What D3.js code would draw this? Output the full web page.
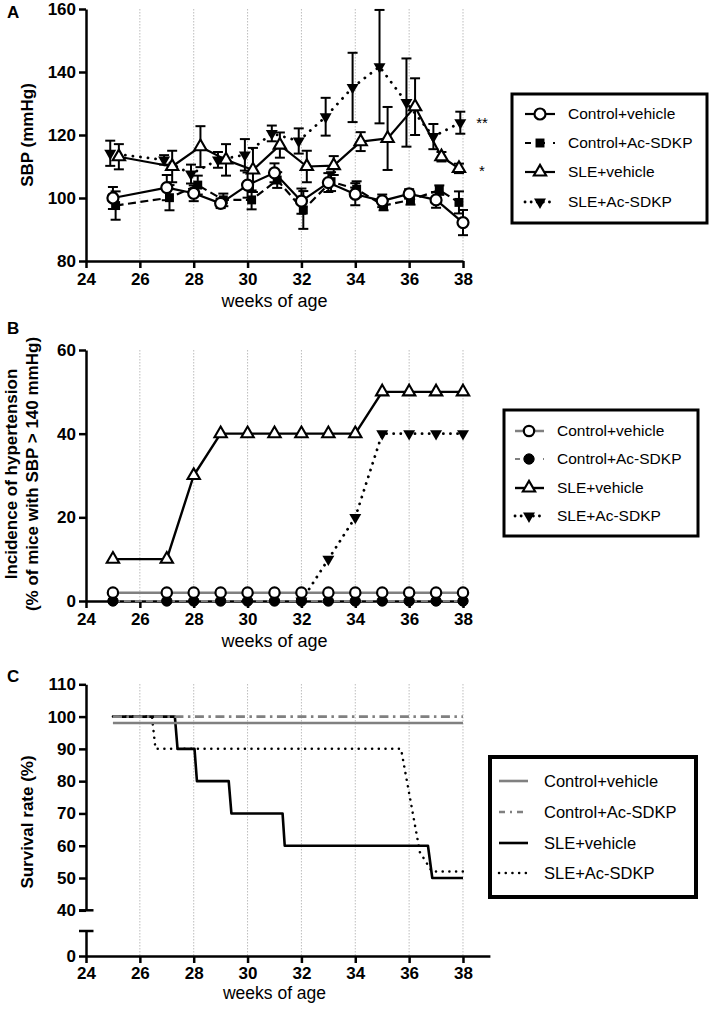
<!DOCTYPE html>
<html><head><meta charset="utf-8">
<script src="https://cdn.jsdelivr.net/npm/d3@7"></script>
<style>
body{margin:0;background:#fff;}
svg{display:block;font-family:"Liberation Sans",Arial,Helvetica,sans-serif;}
</style></head><body>
<svg id="c" width="709" height="1012"></svg>
<script>
// ---------------- DATA ----------------
const seriesNames = ["Control+vehicle", "Control+Ac-SDKP", "SLE+vehicle", "SLE+Ac-SDKP"];
const weeks = [25, 27, 28, 29, 30, 31, 32, 33, 34, 35, 36, 37, 38];
const xTicks = [24, 26, 28, 30, 32, 34, 36, 38];

// Panel A: SBP (mmHg), mean and SEM; x positions (weeks, nudged as in the figure)
const cvX_A = [25, 27, 28, 29, 30, 31, 32, 33, 34, 35, 36, 37, 38];
const caX_A = [25.1, 27.1, 28.15, 29.1, 30.15, 31.1, 32.07, 33.1, 34.05, 35.05, 36.05, 37.12, 37.85];
const svX_A = [25.22, 27.2, 28.25, 29.2, 30.2, 31.2, 32.2, 33.2, 34.2, 35.2, 36.22, 37.2, 37.85];
const saX_A = [24.9, 26.9, 27.9, 28.9, 29.9, 30.9, 31.9, 32.9, 33.9, 34.9, 35.9, 36.9, 37.9];
const cvA = [100, 103.3, 101.5, 98.3, 104.1, 108, 99, 104.9, 101.2, 99.1, 101.3, 99.4, 92.2];
const caA = [97.6, 100.1, 104.1, 99.4, 99.4, 105.7, 96.2, 105.2, 102.8, 97.6, 99.4, 102.5, 98.6];
const svA = [113.1, 110, 116.3, 112.1, 108.9, 116.8, 110, 110.3, 117.9, 118.9, 129, 113.1, 109.4];
const saA = [114.2, 112.1, 107.6, 112.1, 113.7, 120.5, 118.1, 125.8, 135.1, 141.7, 130.3, 119.5, 123.9];
const cvA_sem = [3.5, 4, 2.5, 1.5, 4, 3, 4, 3, 3.5, 2, 1.5, 2.5, 4];
const caA_sem = [4.5, 4, 3, 2, 3, 2.5, 6, 3, 2.5, 1.5, 1.5, 1.5, 3.5];
const svA_sem = [4, 5, 6.5, 5, 7, 4, 5, 3, 3, 10, 9, 1.5, 1.5];
const saA_sem = [4, 1.5, 3, 2.5, 5, 2.5, 4, 6, 11, 18, 14, 4, 3.5];
const yTicksA = [80, 100, 120, 140, 160];
const sigLabels = ["**", "*"];
const sigValues = [125, 110];

// Panel B: incidence of hypertension (%)
const cvB = [2, 2, 2, 2, 2, 2, 2, 2, 2, 2, 2, 2, 2];
const caB = [0, 0, 0, 0, 0, 0, 0, 0, 0, 0, 0, 0, 0];
const svB = [10, 10, 30, 40, 40, 40, 40, 40, 40, 50, 50, 50, 50];
const saB = [null, null, null, null, null, null, 0, 10, 20, 40, 40, 40, 40];
const yTicksB = [0, 20, 40, 60];

// Panel C: survival rate (%), [week, value] step vertices
const cvC = [[25, 98], [38, 98]];
const caC = [[25, 100], [38, 100]];
const svC = [[25, 100], [27.3, 100], [27.4, 90], [28.03, 90], [28.12, 80], [29.3, 80], [29.4, 70], [31.3, 70], [31.38, 60], [36.7, 60], [36.86, 50], [38, 50]];
const saC = [[25, 100], [26.45, 100], [26.58, 90], [35.7, 90], [36.4, 58], [36.85, 52], [38, 52]];
const yTicksC = [40, 50, 60, 70, 80, 90, 100, 110];
const yTicksCLow = [0];

// ---------------- DRAWING ----------------
const svg = d3.select("#c");
const BLACK = "#000", GRAY = "#808080";
const FONT_TICK = "17px", FONT_TITLE = "17px";

function styleAxis(g) {
  g.selectAll("path.domain").attr("stroke", BLACK).attr("stroke-width", 2.5);
  g.selectAll(".tick line").attr("stroke", BLACK).attr("stroke-width", 2.5);
  g.selectAll(".tick text").attr("fill", BLACK).style("font-size", FONT_TICK).style("font-weight", "bold")
    .style("font-family", '"Liberation Sans",Arial,sans-serif');
}
function grid(g, x, y0, y1) {
  g.append("g").selectAll("line").data(xTicks.slice(1)).join("line")
    .attr("x1", d => x(d)).attr("x2", d => x(d)).attr("y1", y0).attr("y2", y1)
    .attr("stroke", "#b5b5b5").attr("stroke-width", 0.9).attr("stroke-dasharray", "1.5,1.5");
}
const symCircle = d3.symbol().type(d3.symbolCircle).size(95)();
const symCircleB = d3.symbol().type(d3.symbolCircle).size(84)();
const symSquare = d3.symbol().type(d3.symbolSquare).size(80)();
const symTri = d3.symbol().type(d3.symbolTriangle).size(66)();
const symTriDown = d3.symbol().type(d3.symbolTriangle).size(62)();

const markerStyles = [
  {path: symCircle, fill: "#fff", stroke: BLACK, sw: 2.2, rot: 0},
  {path: symSquare, fill: BLACK, stroke: "none", sw: 0, rot: 0},
  {path: symTri, fill: "#fff", stroke: BLACK, sw: 2.1, rot: 0},
  {path: symTriDown, fill: BLACK, stroke: "none", sw: 0, rot: 180}
];
const lineStyleA = [
  {stroke: BLACK, sw: 2.2, dash: null, cap: "butt"},
  {stroke: BLACK, sw: 2.2, dash: "8,4.5", cap: "butt"},
  {stroke: BLACK, sw: 2.2, dash: null, cap: "butt"},
  {stroke: BLACK, sw: 2.8, dash: "0.1,7.5", cap: "round"}
];

function drawMarkers(g, pts, ms) {
  g.append("g").selectAll("path").data(pts).join("path")
    .attr("d", ms.path)
    .attr("transform", d => `translate(${d[0]},${d[1]}) rotate(${ms.rot})`)
    .attr("fill", ms.fill).attr("stroke", ms.stroke).attr("stroke-width", ms.sw);
}
function drawLine(g, pts, ls) {
  const p = g.append("path").attr("d", d3.line()(pts)).attr("fill", "none")
    .attr("stroke", ls.stroke).attr("stroke-width", ls.sw).attr("stroke-linecap", ls.cap)
    .attr("stroke-linejoin", "round");
  if (ls.dash) p.attr("stroke-dasharray", ls.dash);
  return p;
}

// ===== Panel A =====
{
  const x = d3.scaleLinear().domain([24, 38]).range([86, 463]);
  const y = d3.scaleLinear().domain([80, 160]).range([261, 9]);
  const g = svg.append("g");
  grid(g, x, 9, 261);
  const ax = g.append("g").attr("transform", "translate(0,261)")
    .call(d3.axisBottom(x).tickValues(xTicks).tickSize(7).tickPadding(5).tickSizeOuter(0));
  styleAxis(ax);
  const ay = g.append("g").attr("transform", "translate(86,0)")
    .call(d3.axisLeft(y).tickValues(yTicksA).tickSize(7).tickPadding(3).tickSizeOuter(0));
  styleAxis(ay);

  const xs = [cvX_A, caX_A, svX_A, saX_A];
  const vs = [cvA, caA, svA, saA];
  const ss = [cvA_sem, caA_sem, svA_sem, saA_sem];
  [3, 2, 1, 0].forEach(i => drawLine(g, vs[i].map((v, j) => [x(xs[i][j]), y(v)]), lineStyleA[i]));
  [3, 2, 1, 0].forEach(i => {
    const eb = g.append("g");
    vs[i].forEach((v, j) => {
      const cx = x(xs[i][j]), t = y(v + ss[i][j]), b = y(v - ss[i][j]);
      eb.append("line").attr("x1", cx).attr("x2", cx).attr("y1", t).attr("y2", b).attr("stroke", BLACK).attr("stroke-width", 2);
      [t, b].forEach(yy => eb.append("line").attr("x1", cx - 5).attr("x2", cx + 5).attr("y1", yy).attr("y2", yy).attr("stroke", BLACK).attr("stroke-width", 2));
    });
  });
  [1, 3, 2, 0].forEach(i => drawMarkers(g, vs[i].map((v, j) => [x(xs[i][j]), y(v)]), markerStyles[i]));
  g.append("g").selectAll("text").data(sigLabels).join("text")
    .attr("x", 482).attr("y", (d, i) => y(sigValues[i]) + 9)
    .attr("text-anchor", "middle").attr("fill", BLACK).style("font-size", "15px").text(d => d);
  g.append("text").attr("transform", "translate(33,135) rotate(-90)").attr("text-anchor", "middle")
    .attr("fill", BLACK).style("font-size", FONT_TITLE).style("font-weight", "bold").text("SBP (mmHg)");
  g.append("text").attr("x", 274.5).attr("y", 307).attr("text-anchor", "middle").style("font-size", "18px").text("weeks of age");
  g.append("text").attr("x", 7).attr("y", 18).style("font-size", "17px").style("font-weight", "bold").text("A");

  const lg = g.append("g");
  lg.append("rect").attr("x", 512).attr("y", 94).attr("width", 195).attr("height", 129)
    .attr("fill", "#fff").attr("stroke", BLACK).attr("stroke-width", 3);
  const ly = [114, 143, 172, 202];
  seriesNames.forEach((n, i) => {
    const ls = Object.assign({}, lineStyleA[i]);
    if (i === 1) ls.dash = "6,8";
    if (i === 3) ls.dash = "0.1,6";
    drawLine(lg, [[525, ly[i]], [555, ly[i]]], ls);
    drawMarkers(lg, [[540, ly[i]]], markerStyles[i]);
    lg.append("text").attr("x", 568).attr("y", ly[i]).attr("dy", "0.35em").style("font-size", "15.5px").text(n);
  });
}

// ===== Panel B =====
{
  const x = d3.scaleLinear().domain([24, 38]).range([86, 463]);
  const y = d3.scaleLinear().domain([0, 60]).range([601, 350]);
  const g = svg.append("g");
  grid(g, x, 350, 601);
  const ax = g.append("g").attr("transform", "translate(0,601)")
    .call(d3.axisBottom(x).tickValues(xTicks).tickSize(7).tickPadding(5).tickSizeOuter(0));
  styleAxis(ax);
  const ay = g.append("g").attr("transform", "translate(86,0)")
    .call(d3.axisLeft(y).tickValues(yTicksB).tickSize(7).tickPadding(3).tickSizeOuter(0));
  styleAxis(ay);

  const vs = [cvB, caB, svB, saB];
  const lsB = [
    {stroke: GRAY, sw: 2.5, dash: null, cap: "butt"},
    {stroke: GRAY, sw: 2.2, dash: "7,4", cap: "butt"},
    {stroke: BLACK, sw: 2.4, dash: null, cap: "butt"},
    {stroke: BLACK, sw: 2.8, dash: "0.1,7", cap: "round"}
  ];
  const msB = markerStyles.map(m => Object.assign({}, m));
  msB[0].path = symCircleB;
  msB[1] = {path: symCircleB, fill: BLACK, stroke: BLACK, sw: 1, rot: 0};
  const pts = vs.map(arr => arr.map((v, j) => v === null ? null : [x(weeks[j]), y(v)]).filter(p => p));
  [3, 2, 1, 0].forEach(i => drawLine(g, pts[i], lsB[i]));
  [3, 2, 1, 0].forEach(i => drawMarkers(g, pts[i], msB[i]));

  g.append("text").attr("transform", "translate(17,474) rotate(-90)").attr("text-anchor", "middle")
    .style("font-size", FONT_TITLE).style("font-weight", "bold").text("Incidence of hypertension");
  g.append("text").attr("transform", "translate(38,474) rotate(-90)").attr("text-anchor", "middle")
    .style("font-size", FONT_TITLE).style("font-weight", "bold").text("(% of mice with SBP > 140 mmHg)");
  g.append("text").attr("x", 274.5).attr("y", 647).attr("text-anchor", "middle").style("font-size", "18px").text("weeks of age");
  g.append("text").attr("x", 7).attr("y", 334).style("font-size", "17px").style("font-weight", "bold").text("B");

  const lg = g.append("g");
  lg.append("rect").attr("x", 504).attr("y", 410).attr("width", 194).attr("height", 126)
    .attr("fill", "#fff").attr("stroke", BLACK).attr("stroke-width", 3);
  const ly = [431, 459, 488, 516];
  seriesNames.forEach((n, i) => {
    const ls = Object.assign({}, lsB[i]);
    if (i === 1) ls.dash = "5,9";
    if (i === 3) ls.dash = "0.1,6";
    drawLine(lg, [[515, ly[i]], [544, ly[i]]], ls);
    drawMarkers(lg, [[529, ly[i]]], msB[i]);
    lg.append("text").attr("x", 557).attr("y", ly[i]).attr("dy", "0.35em").style("font-size", "15.5px").text(n);
  });
}

// ===== Panel C =====
{
  const x = d3.scaleLinear().domain([24, 39]).range([86, 489.9]);
  const y = d3.scaleLinear().domain([40, 110]).range([910.3, 684.3]);
  const yLow = d3.scaleLinear().domain([0, 7.7]).range([956, 931]);
  const g = svg.append("g");
  grid(g, x, 684, 956);
  const ax = g.append("g").attr("transform", "translate(0,956)")
    .call(d3.axisBottom(x).tickValues(xTicks).tickSize(7).tickPadding(4).tickSizeOuter(0));
  styleAxis(ax);
  const ay = g.append("g").attr("transform", "translate(86,0)")
    .call(d3.axisLeft(y).tickValues(yTicksC).tickSize(7).tickPadding(3).tickSizeOuter(0));
  styleAxis(ay);
  const ay2 = g.append("g").attr("transform", "translate(86,0)")
    .call(d3.axisLeft(yLow).tickValues(yTicksCLow).tickSize(7).tickPadding(3).tickSizeOuter(0));
  styleAxis(ay2);
  [y(40), yLow(7.7)].forEach(yy => g.append("line").attr("x1", 79).attr("x2", 93.5).attr("y1", yy).attr("y2", yy)
    .attr("stroke", BLACK).attr("stroke-width", 2.5));

  const lsC = [
    {stroke: GRAY, sw: 2.6, dash: null, cap: "butt"},
    {stroke: GRAY, sw: 2.6, dash: "9,4.5,2.5,4.5", cap: "butt"},
    {stroke: BLACK, sw: 2.6, dash: null, cap: "butt"},
    {stroke: BLACK, sw: 2.5, dash: "0.1,6.6", cap: "round"}
  ];
  const data = [cvC, caC, svC, saC];
  [3, 2, 0, 1].forEach(i => drawLine(g, data[i].map(d => [x(d[0]), y(d[1])]), lsC[i]));

  g.append("text").attr("transform", "translate(33,822) rotate(-90)").attr("text-anchor", "middle")
    .style("font-size", FONT_TITLE).style("font-weight", "bold").text("Survival rate (%)");
  g.append("text").attr("x", 274.5).attr("y", 999).attr("text-anchor", "middle").style("font-size", "17.5px").text("weeks of age");
  g.append("text").attr("x", 7).attr("y", 682).style("font-size", "17px").style("font-weight", "bold").text("C");

  const lg = g.append("g");
  lg.append("rect").attr("x", 490).attr("y", 757).attr("width", 206).attr("height", 140)
    .attr("fill", "#fff").attr("stroke", BLACK).attr("stroke-width", 4);
  const ly = [781, 812, 843, 873];
  seriesNames.forEach((n, i) => {
    const ls = Object.assign({}, lsC[i]);
    if (i === 1) ls.dash = "6,5,2,5";
    drawLine(lg, [[499, ly[i]], [528, ly[i]]], ls);
    lg.append("text").attr("x", 544).attr("y", ly[i]).attr("dy", "0.35em").style("font-size", "16.5px").text(n);
  });
}
</script>
</body></html>
